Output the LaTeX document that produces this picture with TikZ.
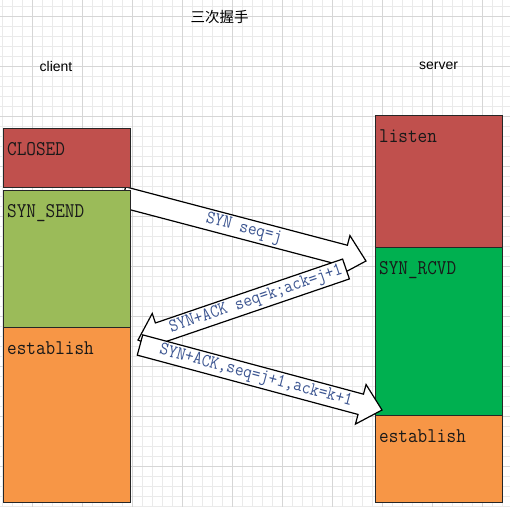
\documentclass[tikz,border=0pt]{standalone}
\usepackage{fontspec}
\setmainfont{Liberation Sans}
\newfontfamily\cjkfont{Noto Sans CJK SC}
\usetikzlibrary{calc}
\definecolor{gridminor}{RGB}{234,234,234}
\definecolor{gridmajor}{RGB}{214,214,214}
\definecolor{boxred}{RGB}{192,80,77}
\definecolor{boxlgreen}{RGB}{155,187,89}
\definecolor{boxgreen}{RGB}{0,176,80}
\definecolor{boxorange}{RGB}{247,150,70}
\definecolor{arrowtext}{RGB}{60,85,145}
\tikzset{
  gridminorline/.style={draw=gridminor, line width=0.8pt},
  gridmajorline/.style={draw=gridmajor, line width=0.9pt},
  statebox/.style={draw=black!85, line width=1pt, inner sep=0pt, outer sep=0pt, anchor=north west},
  statelabel/.style={anchor=base west, inner sep=0pt, yscale=1.12, font=\ttfamily\fontsize{18.7}{20}\selectfont, text=black!90},
  blockarrowline/.style={draw=black, fill=white, line width=1.2pt, line join=miter},
  arrowlabel/.style={inner sep=0pt, transform shape, yscale=1.12, text=arrowtext},
  plainlabel/.style={inner sep=0pt, font=\fontsize{14}{16}\selectfont},
}
% #1 name, #2 x, #3 y, #4 w, #5 h, #6 colour, #7 label
\newcommand\statebox[7]{%
  \node[statebox, fill=#6, minimum width=#4pt, minimum height=#5pt] (#1) at (#2,#3) {};
  \node[statelabel] (#1-lbl) at ($(#1.north west)+(3.5,27.5)$) {#7};
}
% #1 tail, #2 tip, #3 label position along shaft, #4 font size, #5 label options, #6 label name, #7 text
\newcommand\blockarrow[7]{%
  \path let \p1=(#1), \p2=(#2) in \pgfextra{%
    \pgfmathsetmacro\baang{atan2(\y2-\y1,\x2-\x1)}%
    \pgfmathsetmacro\balen{veclen(\x2-\x1,\y2-\y1)}%
    \xdef\baangG{\baang}\xdef\balenG{\balen}};
  \begin{scope}[shift={(#1)}, rotate=\baangG]
    \draw[blockarrowline] (0,-10.5) -- (\balenG-22,-10.5) -- (\balenG-22,-20.5)
      -- (\balenG,0) -- (\balenG-22,20.5) -- (\balenG-22,10.5) -- (0,10.5) -- cycle;
    \node[arrowlabel, font=\ttfamily\fontsize{#4}{#4}\selectfont, #5] (#6) at (#3,0) {#7};
  \end{scope}
}
\begin{document}
\begin{tikzpicture}[x=1pt, y=-1pt]
  \useasboundingbox (0,0) rectangle (510,507);
  \fill[white] (0,0) rectangle (510,507);
  % grid
  \foreach \gx in {2,12,...,502} \draw[gridminorline] (\gx,0) -- (\gx,507);
  \foreach \gy in {6,16,...,506} \draw[gridminorline] (0,\gy) -- (510,\gy);
  \foreach \gx in {32,82,...,482} \draw[gridmajorline] (\gx,0) -- (\gx,507);
  \foreach \gy in {16,66,...,466} \draw[gridmajorline] (0,\gy) -- (510,\gy);
  % titles
  \node[plainlabel, font=\cjkfont\fontsize{14.5}{16}\selectfont] (title) at (219.5,17) {三次握手};
  \node[plainlabel] (client) at (56,66) {client};
  \node[plainlabel] (server) at (438.5,66) {server};
  % first block arrow (its tail lies under the client boxes)
  \coordinate (a1s) at (123,197);
  \coordinate (a1e) at (366,261);
  \blockarrow{a1s}{a1e}{125}{16.8}{}{m1}{SYN seq=j}
  % client states
  \statebox{closed}{3.5}{128}{126.5}{59}{boxred}{CLOSED}
  \statebox{synsend}{3.5}{190}{126.5}{137}{boxlgreen}{SYN\_SEND}
  \statebox{cest}{3.5}{327}{126.5}{175}{boxorange}{establish}
  % server states
  \statebox{listen}{375.5}{115}{126.5}{132}{boxred}{listen}
  \statebox{synrcvd}{375.5}{247}{126.5}{168}{boxgreen}{SYN\_RCVD}
  \statebox{sest}{375.5}{415}{126.5}{87}{boxorange}{establish}
  % other block arrows
  \coordinate (a2s) at (346,269);
  \coordinate (a2e) at (138,340);
  \coordinate (a3s) at (140,345);
  \coordinate (a3e) at (382,410);
  \blockarrow{a2s}{a2e}{95}{16.8}{rotate=180}{m2}{SYN+ACK seq=k;ack=j+1}
  \blockarrow{a3s}{a3e}{120}{16.8}{}{m3}{SYN+ACK,seq=j+1,ack=k+1}
\end{tikzpicture}
\end{document}
